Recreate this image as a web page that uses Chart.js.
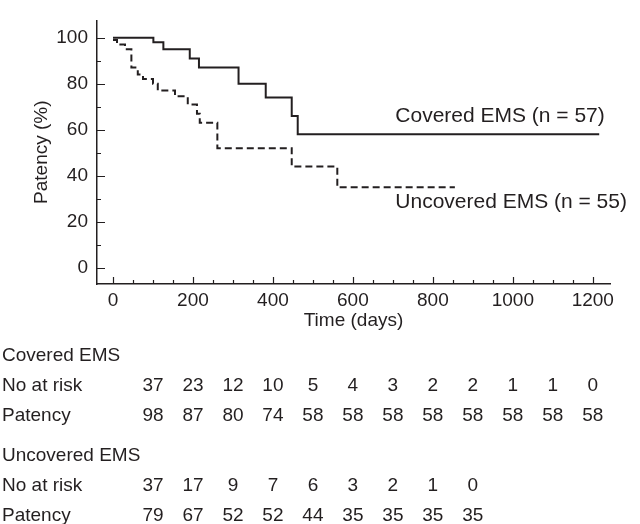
<!DOCTYPE html>
<html>
<head>
<meta charset="utf-8">
<script src="https://cdn.jsdelivr.net/npm/chart.js@4.4.0/dist/chart.umd.min.js"></script>
<style>
  html, body { margin: 0; padding: 0; background: #fff; }
  #wrap { width: 640px; height: 524px; position: relative; }
</style>
</head>
<body>
<div id="wrap"><canvas id="km"></canvas></div>
<script>
// KM steps: day of drop, patency (%) after it
const coveredDays = [0, 101, 126, 192, 215, 314, 382, 447, 462, 1216];
const coveredPct  = [100, 98, 95, 91, 87, 80, 74, 66, 58, 58];
const uncoveredDays = [0, 10, 30, 46, 62, 75, 100, 112, 155, 187, 210, 217, 261, 447, 561, 855];
const uncoveredPct  = [99, 97, 95, 87, 84, 82, 80, 77, 74.5, 71, 67, 63, 52, 44, 35, 35];

const xTicks = [0, 200, 400, 600, 800, 1000, 1200];
const yTicks = [0, 20, 40, 60, 80, 100];

// numbers under the plot, one column per 100 days
const tableDays = [100, 200, 300, 400, 500, 600, 700, 800, 900, 1000, 1100, 1200];
const coveredAtRisk = [37, 23, 12, 10, 5, 4, 3, 2, 2, 1, 1, 0];
const coveredPatency = [98, 87, 80, 74, 58, 58, 58, 58, 58, 58, 58, 58];
const uncoveredAtRisk = [37, 17, 9, 7, 6, 3, 2, 1, 0];
const uncoveredPatency = [79, 67, 52, 52, 44, 35, 35, 35, 35];

const ink = '#231f20';
const fontFam = '"Liberation Sans", Arial, sans-serif';

function toPoints(xs, ys) {
    return xs.map((x, i) => ({ x: x, y: ys[i] }));
}

// inward tick marks, curve labels and the at-risk table
const extras = {
    id: 'extras',
    afterDraw(chart) {
        const ctx = chart.ctx;
        const xs = chart.scales.x, ys = chart.scales.y;
        const area = chart.chartArea;
        ctx.save();
        ctx.strokeStyle = ink;
        ctx.lineWidth = 1.2;
        ctx.beginPath();
        for (let v = 0; v <= 1200; v += 50) {
            const px = Math.round(xs.getPixelForValue(v)) + 0.5;
            const len = v % 200 === 0 ? 7 : 4;
            ctx.moveTo(px, area.bottom);
            ctx.lineTo(px, area.bottom - len);
        }
        for (let v = 0; v <= 100; v += 10) {
            const py = Math.round(ys.getPixelForValue(v)) + 0.5;
            const len = v % 20 === 0 ? 8 : 4;
            ctx.moveTo(area.left, py);
            ctx.lineTo(area.left + len, py);
        }
        ctx.stroke();

        ctx.fillStyle = ink;
        ctx.textBaseline = 'middle';
        ctx.font = '21px ' + fontFam;
        ctx.textAlign = 'left';
        ctx.fillText('Covered EMS (n = 57)', xs.getPixelForValue(706), ys.getPixelForValue(65.8));
        ctx.fillText('Uncovered EMS (n = 55)', xs.getPixelForValue(706), ys.getPixelForValue(28.6));

        ctx.font = '19px ' + fontFam;
        const rows = [
            { y: 356, label: 'Covered EMS' },
            { y: 386, label: 'No at risk', vals: coveredAtRisk },
            { y: 416, label: 'Patency', vals: coveredPatency },
            { y: 456, label: 'Uncovered EMS' },
            { y: 486, label: 'No at risk', vals: uncoveredAtRisk },
            { y: 516, label: 'Patency', vals: uncoveredPatency }
        ];
        rows.forEach(r => {
            ctx.textAlign = 'left';
            ctx.fillText(r.label, 2, r.y);
            if (!r.vals) return;
            ctx.textAlign = 'center';
            r.vals.forEach((v, i) => {
                ctx.fillText(String(v), xs.getPixelForValue(tableDays[i]), r.y);
            });
        });
        ctx.restore();
    }
};

new Chart(document.getElementById('km'), {
    type: 'line',
    data: {
        datasets: [
            {
                label: 'Covered EMS',
                data: toPoints(coveredDays, coveredPct),
                borderColor: ink,
                borderWidth: 2,
                stepped: 'before',
                pointRadius: 0,
                fill: false
            },
            {
                label: 'Uncovered EMS',
                data: toPoints(uncoveredDays, uncoveredPct),
                borderColor: ink,
                borderWidth: 2,
                borderDash: [7, 4],
                stepped: 'before',
                pointRadius: 0,
                fill: false
            }
        ]
    },
    options: {
        responsive: true,
        maintainAspectRatio: false,
        animation: false,
        layout: { padding: { left: 0, right: 30, top: 0, bottom: 0 } },
        plugins: { legend: { display: false }, tooltip: { enabled: false } },
        scales: {
            x: {
                type: 'linear',
                min: -40,
                max: 1243,
                afterBuildTicks: s => { s.ticks = xTicks.map(v => ({ value: v })); },
                afterFit: s => { s.height = 240; },
                grid: { display: false, drawTicks: false },
                border: { display: true, color: ink, width: 1.5 },
                ticks: {
                    color: ink, font: { family: fontFam, size: 19 }, padding: 5,
                    maxRotation: 0, autoSkip: false,
                    callback: v => String(v)
                },
                title: { display: true, text: 'Time (days)', color: ink, font: { family: fontFam, size: 19 }, padding: { top: 0, bottom: 192 } }
            },
            y: {
                type: 'linear',
                min: -7,
                max: 107.5,
                afterBuildTicks: s => { s.ticks = yTicks.map(v => ({ value: v })); },
                afterFit: s => { s.width = 97; },
                grid: { display: false, drawTicks: false },
                border: { display: true, color: ink, width: 1.5 },
                ticks: { color: ink, font: { family: fontFam, size: 19 }, padding: 9, autoSkip: false, callback: v => String(v) },
                title: { display: true, text: 'Patency (%)', color: ink, font: { family: fontFam, size: 19 }, padding: { top: 30, bottom: 0 } }
            }
        }
    },
    plugins: [extras]
});
</script>
</body>
</html>
